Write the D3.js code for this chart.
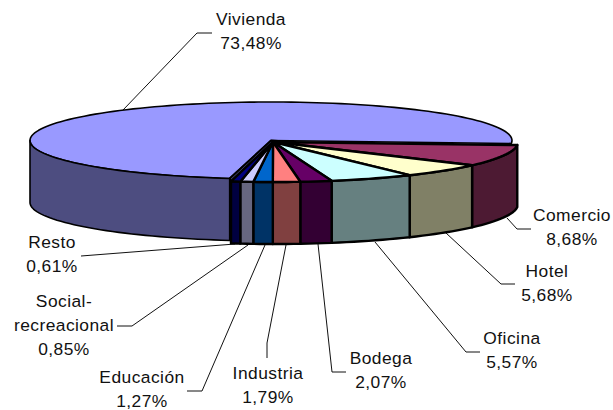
<!DOCTYPE html>
<html><head><meta charset="utf-8">
<script src="https://cdn.jsdelivr.net/npm/d3@7"></script>
<style>html,body{margin:0;padding:0;background:#fff}svg{display:block}text{font-family:"Liberation Sans",Arial,sans-serif;font-size:17.4px;letter-spacing:.45px;fill:#111}</style>
</head><body><svg id="c" width="613" height="410"></svg>
<script>
const categories = ["Comercio","Hotel","Oficina","Bodega","Industria","Educación","Social-recreacional","Resto","Vivienda"];
const values = [8.68,5.68,5.57,2.07,1.79,1.27,0.85,0.61,73.48];
const valueLabels = ["8,68%","5,68%","5,57%","2,07%","1,79%","1,27%","0,85%","0,61%","73,48%"];
const topColors = ["#993366","#FFFFCC","#CCFFFF","#660066","#FF8080","#0066CC","#CCCCFF","#000080","#9999FF"];
const sideColors = ["#4D1A33","#808066","#668080","#330033","#804040","#003366","#666680","#000040","#4D4D80"];

// layout (label lines + leader polylines), separate from the data
const labelLines = [["Comercio"],["Hotel"],["Oficina"],["Bodega"],["Industria"],["Educación"],["Social-","recreacional"],["Resto"],["Vivienda"]];
const labelBox = [[572,221],[547,277],[512,344],[381,364],[268,379],[142,383],[64,307],[52,248],[251,25]];
const leaders = [
 [[531,229],[517,229],[507,218]],
 [[515,284],[501,284],[446,233]],
 [[480,352],[466,352],[375,242]],
 [[346,372],[332,372],[318,244]],
 [[267,358],[267,343],[286,245]],
 [[187,391],[202,391],[265,245]],
 [[117,326],[132,326],[248,245]],
 [[81,256],[235,244]],
 [[212,33],[197,33],[123,110]]
];

const svg = d3.select("#c");
const rad = Math.PI/180, t0 = 4.4*rad, depth = 62;
const pie = d3.pie().sort(null).startAngle(t0).endAngle(t0+2*Math.PI);
const arcs = pie(values);

// projection: unit circle -> tilted ellipse
const xMain = d3.scaleLinear().domain([-1,1]).range([273-245,273+245]);
const yMain = d3.scaleLinear().domain([-1,1]).range([142-40,142+40]);
const xViv = d3.scaleLinear().domain([-1,1]).range([271-241,271+241]);
const yViv = d3.scaleLinear().domain([-1,1]).range([140.5-38.5,140.5+38.5]);
const line = d3.line();

function rim(a,b,sx,sy,dy=0){
  const n = Math.max(2,Math.ceil((b-a)/(2*rad))), pts=[];
  for(let i=0;i<=n;i++){const t=a+(b-a)*i/n; pts.push([sx(Math.cos(t)),sy(Math.sin(t))+dy]);}
  return pts;
}
const sides = [], tops = [];
arcs.forEach((d,i)=>{
  const isViv = categories[i]==="Vivienda";
  const sx = isViv?xViv:xMain, sy = isViv?yViv:yMain;
  const a=d.startAngle, b=d.endAngle;
  const vis0=Math.max(a,0), vis1=Math.min(b,Math.PI);
  if(vis1>vis0){
    const up=rim(vis0,vis1,sx,sy), low=rim(vis0,vis1,sx,sy,depth).reverse();
    sides.push({i,pts:up.concat(low)});
  }
  tops.push({i,pts:[[sx(0),sy(0)]].concat(rim(a,b,sx,sy))});
});

// leader lines
svg.append("g").selectAll("path").data(leaders).join("path")
  .attr("d",d=>line(d)).attr("fill","none").attr("stroke","#111").attr("stroke-width",1);

// Vivienda wedge, then cut wall band between it and the small slices
const vi = categories.indexOf("Vivienda");
const drawShape=(g,d,fill,w=2)=>g.append("path").attr("d",line(d)+"Z").attr("fill",fill)
  .attr("stroke","#000").attr("stroke-width",w).attr("stroke-linejoin","round");
const g = svg.append("g");
tops.filter(d=>d.i===vi).forEach(d=>drawShape(g,d.pts,topColors[d.i],1.6));
sides.filter(d=>d.i===vi).forEach(d=>drawShape(g,d.pts,sideColors[d.i],1.6));

// wall strip visible at the Vivienda cut edge
const vs = arcs[vi].startAngle;
const tipV=[xViv(0),yViv(0)], tipM=[xMain(0),yMain(0)];
const outV=[xViv(Math.cos(vs)),yViv(Math.sin(vs))], outM=[xMain(Math.cos(vs)),yMain(Math.sin(vs))];
drawShape(g,[tipV,[tipM[0]+5,tipM[1]-1],[tipM[0]+5,tipM[1]+2],tipM,outM,outV],sideColors[vi]);

sides.filter(d=>d.i!==vi).forEach(d=>drawShape(g,d.pts,sideColors[d.i],2.4));
tops.filter(d=>d.i!==vi).forEach(d=>drawShape(g,d.pts,topColors[d.i],2.4));

// labels
const lab = svg.append("g").attr("text-anchor","middle");
categories.forEach((c,i)=>{
  const lines = labelLines[i].concat([valueLabels[i]]);
  lines.forEach((s,k)=>lab.append("text").attr("x",labelBox[i][0]).attr("y",labelBox[i][1]+k*24).text(s));
});
</script></body></html>
